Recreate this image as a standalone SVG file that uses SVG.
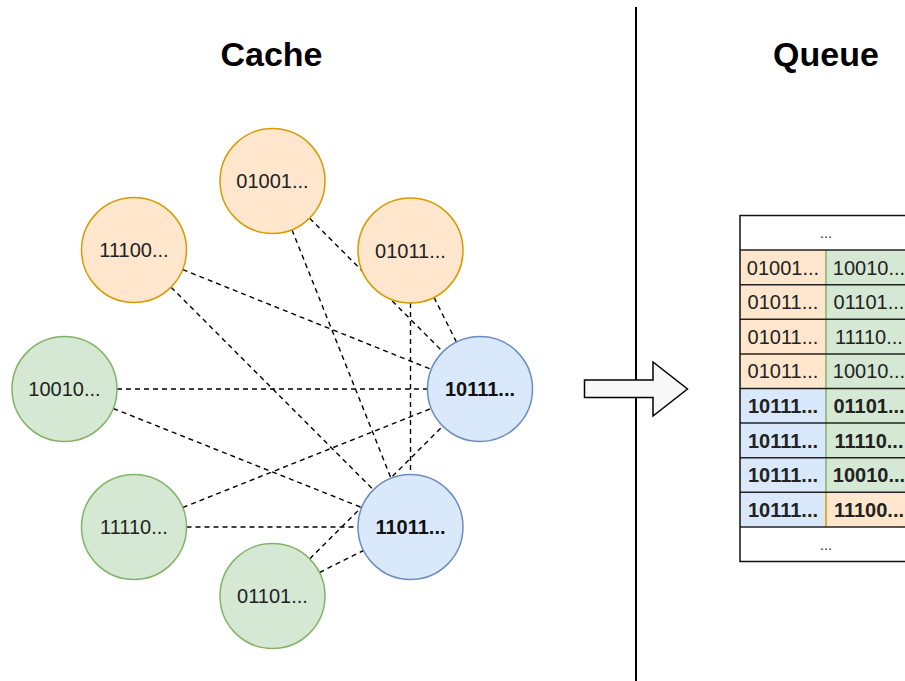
<svg xmlns="http://www.w3.org/2000/svg" width="905" height="681" viewBox="0 0 905 681">
<style>
.title{font-family:"Liberation Sans",Arial,sans-serif;font-weight:bold;font-size:34px;fill:#000;text-anchor:middle}
.lbl{font-family:"Liberation Sans",Arial,sans-serif;font-size:20px;fill:#222;text-anchor:middle}
.b{font-weight:bold;fill:#111}
.tc{font-family:"Liberation Sans",Arial,sans-serif;font-size:20px;fill:#222;text-anchor:middle}
.dots{font-family:"Liberation Sans",Arial,sans-serif;font-size:15px;fill:#333;text-anchor:middle}
.or{fill:#ffe6cc;stroke:#d79b00;stroke-width:1.5}
.gr{fill:#d5e8d4;stroke:#82b366;stroke-width:1.5}
.bl{fill:#dae8fc;stroke:#6c8ebf;stroke-width:1.5}
.edge line{stroke:#000;stroke-width:1.4;stroke-dasharray:5 4;fill:none}
.cell-o{fill:#ffe6cc}
.cell-g{fill:#d5e8d4}
.cell-b{fill:#dae8fc}
</style>
<rect width="905" height="681" fill="#fff"/>
<text class="title" x="271.5" y="66">Cache</text>
<text class="title" x="826" y="66">Queue</text>
<line x1="636" y1="7" x2="636" y2="681" stroke="#000" stroke-width="2"/>
<g id="connectors" class="edge">
<line x1="182.7" y1="269.6" x2="431.3" y2="369.4"/>
<line x1="171.1" y1="287.2" x2="373.4" y2="489.8"/>
<line x1="309.6" y1="218.2" x2="442.9" y2="351.8"/>
<line x1="292" y1="229.8" x2="391" y2="478.2"/>
<line x1="434" y1="297.4" x2="456.5" y2="342.1"/>
<line x1="410.5" y1="303" x2="410.5" y2="474.5"/>
<line x1="117" y1="389" x2="427.5" y2="389"/>
<line x1="113.3" y1="408.5" x2="361.7" y2="507.5"/>
<line x1="182.8" y1="507.5" x2="431.2" y2="408.5"/>
<line x1="186.5" y1="527" x2="358" y2="527"/>
<line x1="309.7" y1="558.9" x2="442.8" y2="426.1"/>
<line x1="319.5" y1="572.5" x2="363.5" y2="550.5"/>
</g>
<g id="n01001"><circle class="or" cx="272.5" cy="181" r="52.5"/><text class="lbl" x="272.5" y="188">01001...</text></g>
<g id="n01011"><circle class="or" cx="410.5" cy="250.5" r="52.5"/><text class="lbl" x="410.5" y="257.5">01011...</text></g>
<g id="n11100"><circle class="or" cx="134" cy="250" r="52.5"/><text class="lbl" x="134" y="257">11100...</text></g>
<g id="n10010"><circle class="gr" cx="64.5" cy="389" r="52.5"/><text class="lbl" x="64.5" y="396">10010...</text></g>
<g id="n11110"><circle class="gr" cx="134" cy="527" r="52.5"/><text class="lbl" x="134" y="534">11110...</text></g>
<g id="n01101"><circle class="gr" cx="272.5" cy="596" r="52.5"/><text class="lbl" x="272.5" y="603">01101...</text></g>
<g id="n10111"><circle class="bl" cx="480" cy="389" r="52.5"/><text class="lbl b" x="480" y="396">10111...</text></g>
<g id="n11011"><circle class="bl" cx="410.5" cy="527" r="52.5"/><text class="lbl b" x="410.5" y="534">11011...</text></g>
<g id="arrow"><polygon points="584.5,380 653,380 653,362 687.5,389 653,416 653,397.5 584.5,397.5" fill="#f8f8f8" stroke="#000" stroke-width="1.5" stroke-linejoin="miter"/></g>
<g id="queue">
<rect x="740" y="215.5" width="172" height="34.6" fill="#fff"/>
<rect class="cell-o" x="740" y="250.1" width="86" height="138.4"/>
<rect class="cell-g" x="826" y="250.1" width="86" height="311.4"/>
<rect class="cell-b" x="740" y="388.5" width="86" height="138.4"/>
<rect class="cell-o" x="826" y="492.3" width="86" height="34.6"/>
<rect x="740" y="526.9" width="172" height="34.6" fill="#fff"/>
<line x1="826" y1="250.1" x2="826" y2="492.3" stroke="#82b366" stroke-width="1.5"/>
<line x1="826" y1="492.3" x2="826" y2="526.9" stroke="#d79b00" stroke-width="1.5"/>
<g stroke="#222" stroke-width="1.5">
<line x1="740" y1="250.1" x2="905" y2="250.1"/>
<line x1="740" y1="284.7" x2="905" y2="284.7"/>
<line x1="740" y1="319.3" x2="905" y2="319.3"/>
<line x1="740" y1="353.9" x2="905" y2="353.9"/>
<line x1="740" y1="388.5" x2="905" y2="388.5"/>
<line x1="740" y1="423.1" x2="905" y2="423.1"/>
<line x1="740" y1="457.7" x2="905" y2="457.7"/>
<line x1="740" y1="492.3" x2="905" y2="492.3"/>
<line x1="740" y1="526.9" x2="905" y2="526.9"/>
</g>
<polyline points="912,215.5 740,215.5 740,561.5 912,561.5" fill="none" stroke="#111" stroke-width="1.5"/>
<text class="dots" x="826" y="238">...</text>
<text class="dots" x="826" y="550">...</text>
<text class="tc" x="783" y="274.6">01001...</text><text class="tc" x="869" y="274.6">10010...</text>
<text class="tc" x="783" y="309.2">01011...</text><text class="tc" x="869" y="309.2">01101...</text>
<text class="tc" x="783" y="343.8">01011...</text><text class="tc" x="869" y="343.8">11110...</text>
<text class="tc" x="783" y="378.4">01011...</text><text class="tc" x="869" y="378.4">10010...</text>
<text class="tc b" x="783" y="413">10111...</text><text class="tc b" x="869" y="413">01101...</text>
<text class="tc b" x="783" y="447.6">10111...</text><text class="tc b" x="869" y="447.6">11110...</text>
<text class="tc b" x="783" y="482.2">10111...</text><text class="tc b" x="869" y="482.2">10010...</text>
<text class="tc b" x="783" y="516.8">10111...</text><text class="tc b" x="869" y="516.8">11100...</text>
</g>
</svg>
